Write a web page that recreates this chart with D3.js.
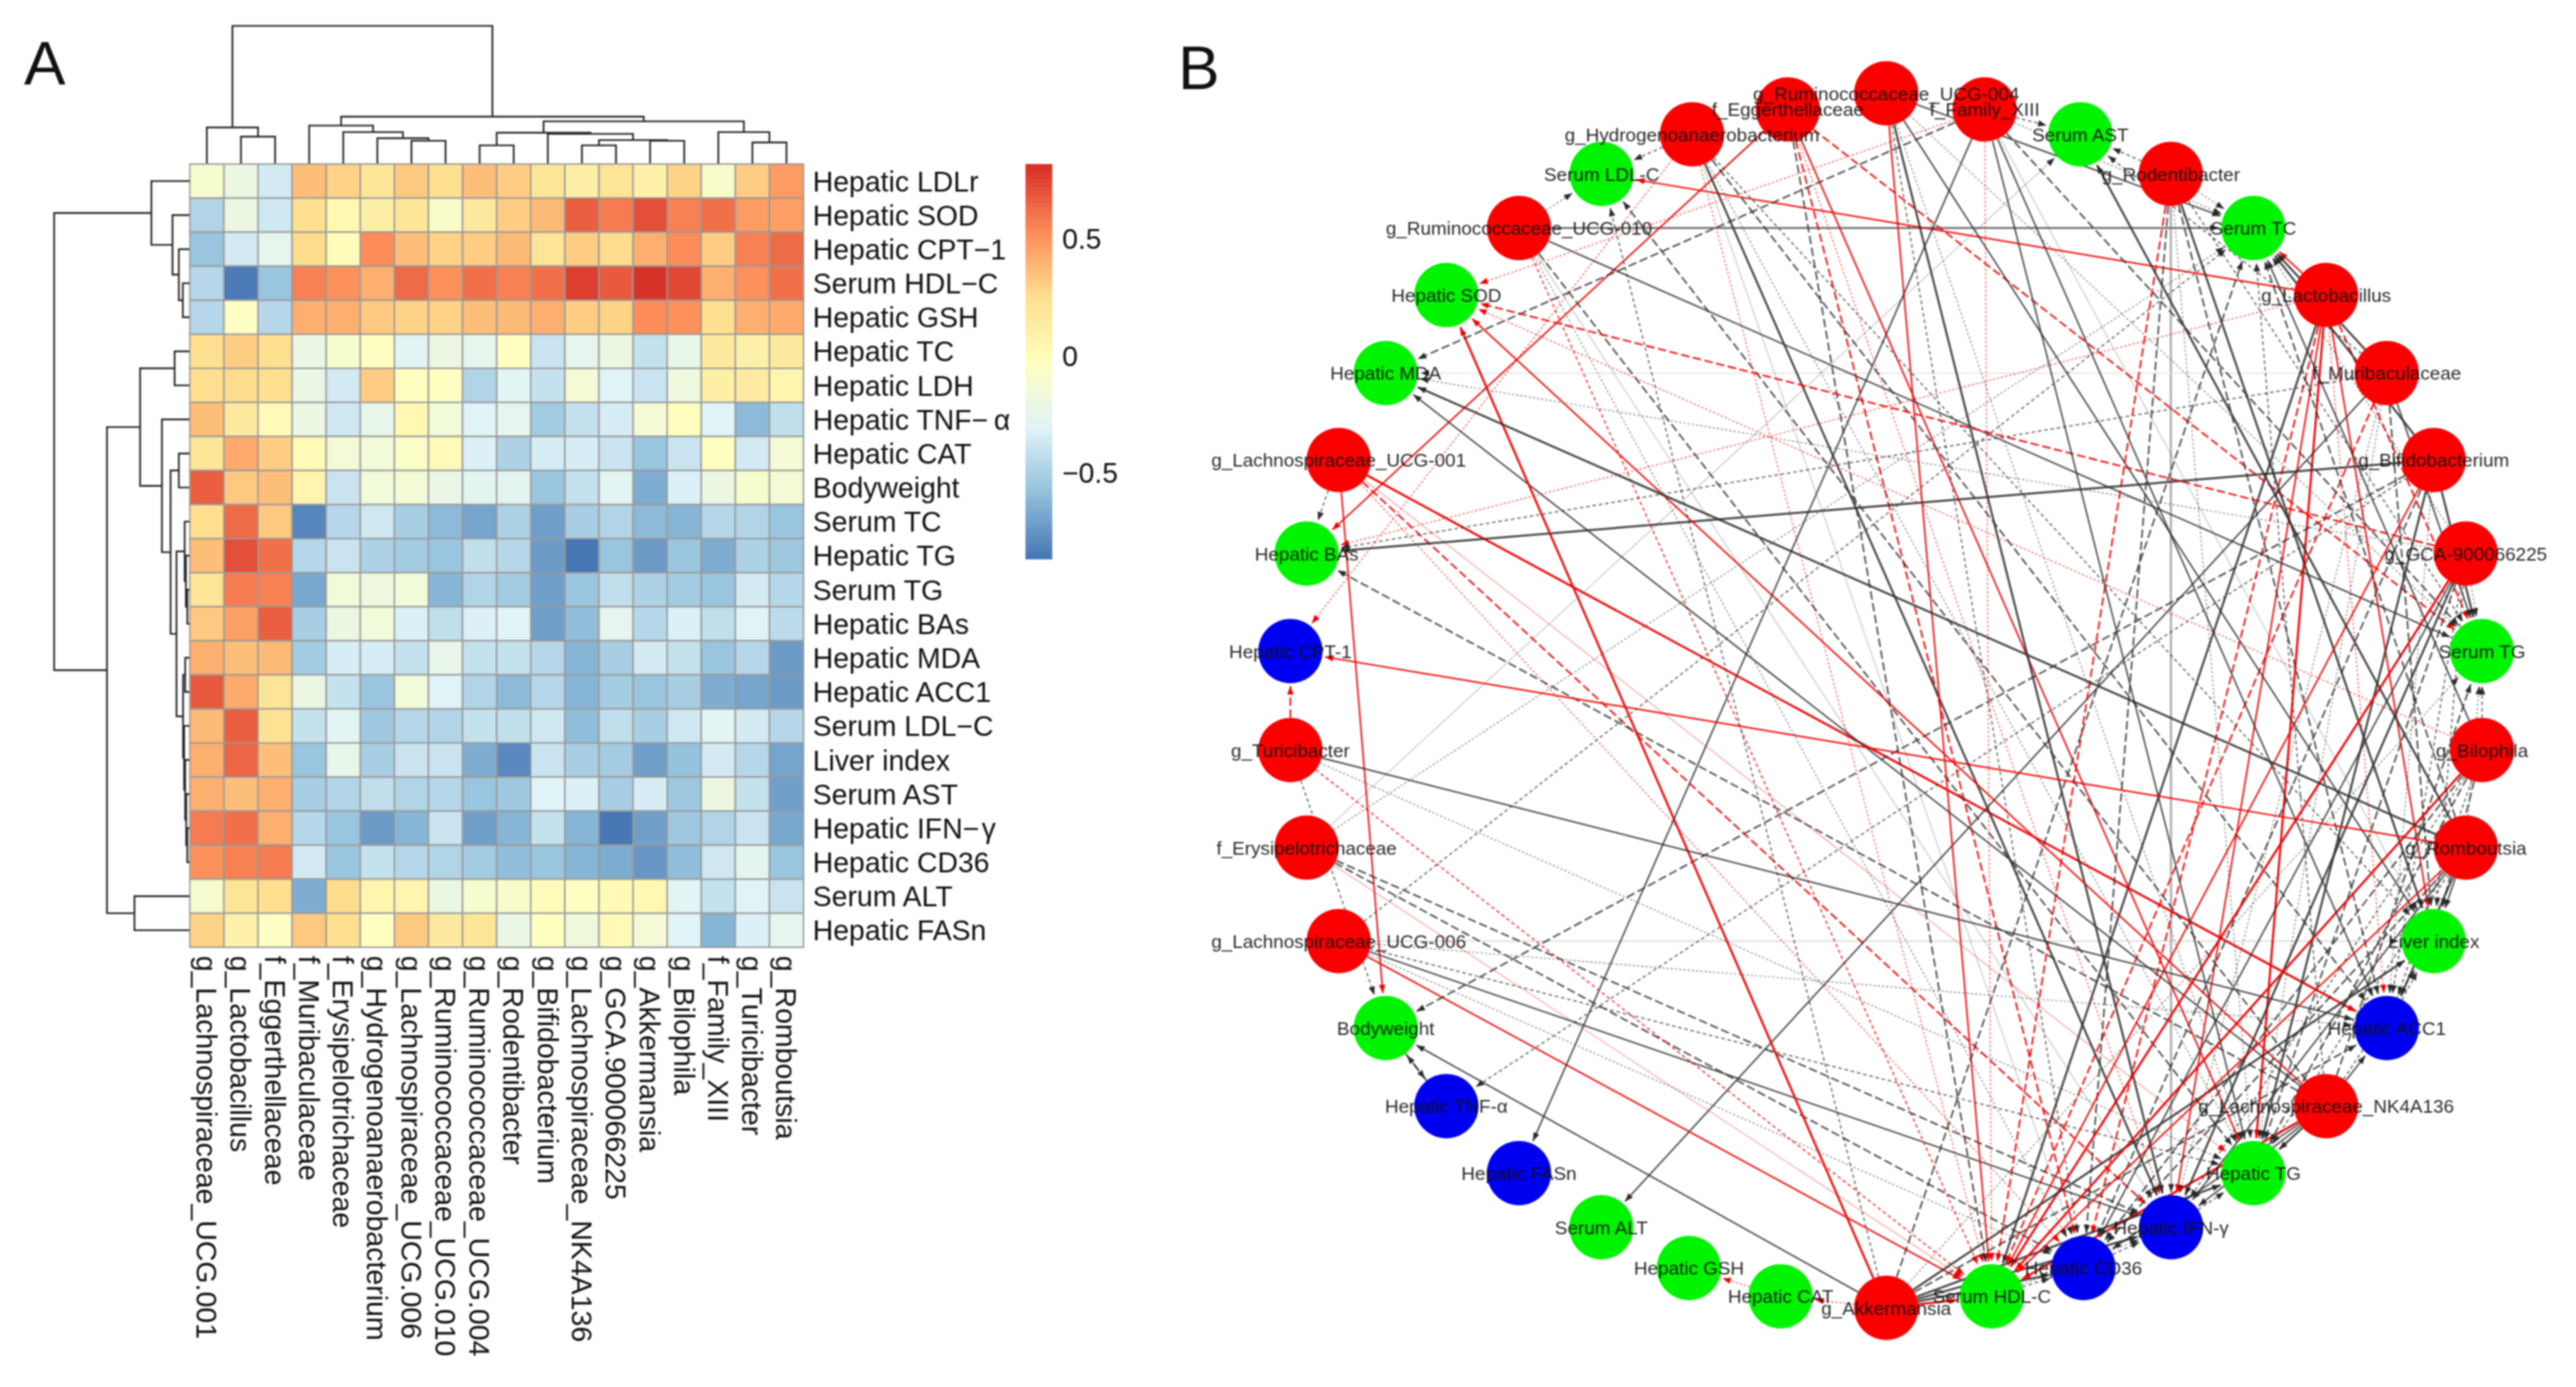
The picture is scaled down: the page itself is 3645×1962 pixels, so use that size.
<!DOCTYPE html>
<html><head><meta charset="utf-8">
<script src="https://cdn.jsdelivr.net/npm/d3@7/dist/d3.min.js"></script>
<style>
html,body{margin:0;padding:0;background:#fff;}
svg{display:block;filter:blur(0.8px);}
text{font-family:"Liberation Sans",Arial,sans-serif;fill:#111;}
</style></head><body>
<svg id="c" width="3645" height="1962"></svg>
<script>
// ---------- heatmap data ----------
const rowNames=["Hepatic LDLr","Hepatic SOD","Hepatic CPT\u22121","Serum HDL\u2212C","Hepatic GSH","Hepatic TC","Hepatic LDH","Hepatic TNF\u2212\u2009\u03b1","Hepatic CAT","Bodyweight","Serum TC","Hepatic TG","Serum TG","Hepatic BAs","Hepatic MDA","Hepatic ACC1","Serum LDL\u2212C","Liver index","Serum AST","Hepatic IFN\u2212\u200a\u03b3","Hepatic CD36","Serum ALT","Hepatic FASn"];
const colNames=["g_Lachnospiraceae_UCG.001","g_Lactobacillus","f_Eggerthellaceae","f_Muribaculaceae","f_Erysipelotrichaceae","g_Hydrogenoanaerobacterium","g_Lachnospiraceae_UCG.006","g_Ruminococcaceae_UCG.010","g_Ruminococcaceae_UCG.004","g_Rodentibacter","g_Bifidobacterium","g_Lachnospiraceae_NK4A136","g_GCA.900066225","g_Akkermansia","g_Bilophila","f_Family_XIII","g_Turicibacter","g_Romboutsia"];
const heat=[
[-.1,-.2,-.35,.38,.3,.2,.35,.25,.38,.33,.2,.12,.23,.1,.3,-.08,.33,.5],
[-.47,-.2,-.37,.25,.05,.13,.2,-.08,.18,.33,.4,.68,.6,.72,.57,.62,.5,.48],
[-.55,-.35,-.25,.28,0,.55,.38,.3,.33,.4,.22,.33,.28,.42,.55,.32,.57,.65],
[-.45,-.83,-.55,.57,.53,.42,.64,.52,.62,.57,.62,.77,.7,.82,.74,.43,.52,.62],
[-.45,-.05,-.45,.43,.43,.35,.3,.3,.38,.4,.42,.33,.3,.54,.52,.25,.42,.45],
[.25,.32,.25,-.22,-.1,-.03,-.28,-.2,-.25,-.02,-.38,-.25,-.2,-.4,-.23,.18,.1,.18],
[.25,.28,.25,-.22,-.35,.32,-.02,-.02,-.47,-.28,-.4,-.13,-.3,-.38,-.18,.13,.15,.08],
[.38,.18,.02,-.2,-.37,-.23,.05,-.15,-.3,-.24,-.52,-.4,-.33,-.12,-.01,-.3,-.6,-.42],
[.2,.45,.32,.02,-.12,-.15,-.06,.02,-.32,-.48,-.33,-.33,-.38,-.55,-.38,-.02,-.35,-.13],
[.67,.35,.38,.07,-.38,-.15,-.12,-.22,-.27,-.27,-.55,-.4,-.27,-.65,-.32,-.2,-.1,-.12],
[.25,.64,.35,-.8,-.45,-.37,-.5,-.6,-.68,-.48,-.7,-.5,-.47,-.6,-.62,-.45,-.47,-.55],
[.38,.73,.62,-.45,-.38,-.48,-.52,-.55,-.42,-.45,-.72,-.88,-.55,-.72,-.55,-.65,-.48,-.53],
[.22,.6,.57,-.66,-.15,-.18,-.15,-.62,-.46,-.52,-.7,-.55,-.42,-.48,-.52,-.55,-.35,-.45],
[.35,.47,.67,-.5,-.2,-.15,-.32,-.42,-.32,-.3,-.7,-.58,-.25,-.45,-.32,-.42,-.3,-.43],
[.42,.38,.4,-.52,-.33,-.33,-.4,-.23,-.4,-.4,-.45,-.62,-.5,-.35,-.4,-.55,-.45,-.72],
[.7,.45,.22,-.2,-.4,-.55,-.15,-.3,-.47,-.6,-.45,-.62,-.52,-.55,-.5,-.65,-.68,-.72],
[.4,.68,.24,-.4,-.28,-.53,-.45,-.47,-.4,-.42,-.37,-.58,-.42,-.5,-.37,-.28,-.35,-.45],
[.42,.66,.38,-.55,-.23,-.5,-.38,-.38,-.65,-.78,-.38,-.5,-.52,-.7,-.57,-.35,-.45,-.68],
[.43,.38,.42,-.5,-.47,-.42,-.46,-.45,-.55,-.53,-.3,-.32,-.5,-.33,-.53,-.2,-.4,-.7],
[.6,.62,.42,-.45,-.55,-.72,-.62,-.38,-.7,-.62,-.4,-.62,-.85,-.7,-.53,-.47,-.38,-.67],
[.53,.57,.6,-.35,-.55,-.4,-.45,-.47,-.52,-.58,-.55,-.62,-.65,-.73,-.58,-.37,-.27,-.55],
[-.1,.22,.25,-.65,.27,.08,.08,-.2,-.1,-.07,0,-.03,.02,.06,-.28,-.4,-.3,-.38],
[.3,.1,-.05,.35,.25,-.02,.35,.18,.2,-.22,-.03,-.17,.02,-.12,-.3,-.62,-.32,-.24]
];
// dendrograms: [mergeHeight, left, right], leaves are row/column indices
const colTree=[195.4,[51,0,[38,1,2]],[66.3,
  [53.6,3,[44.4,4,[35.7,5,[32,6,7]]]],
  [59.7,[43.4,[25.5,8,9],[41.8,10,[33,[25.5,11,12],[32,13,14]]]],[44.4,15,[29.6,16,17]]]]];
const rowTree=[192,[54,0,[24,1,[15,2,[9.3,3,4]]]],[117,
  [70,[21,5,6],[39,7,[26.7,[15,8,9],[18.3,[6.7,10,[5,11,[3,12,13]]],[9,[6,14,15],[7.5,16,[6,17,[4.5,18,[3,19,20]]]]]]]]],
  [78,21,22]]];
const legendTicks=[0.5,0,-0.5];
const legendMin=-0.858, legendMax=0.82;
const rampStops=["#4575B4","#91BFDB","#E0F3F8","#FFFFBF","#FEE090","#FC8D59","#D73027"];

// ---------- network data ----------
const nodeNames=["g_Ruminococcaceae_UCG-004","f_Family_XIII","Serum AST","g_Rodentibacter","Serum TC","g_Lactobacillus","f_Muribaculaceae","g_Bifidobacterium","g_GCA-900066225","Serum TG","g_Bilophila","g_Romboutsia","Liver index","Hepatic ACC1","g_Lachnospiraceae_NK4A136","Hepatic TG","Hepatic IFN-\u03b3","Hepatic CD36","Serum HDL-C","g_Akkermansia","Hepatic CAT","Hepatic GSH","Serum ALT","Hepatic FASn","Hepatic TNF-\u03b1","Bodyweight","g_Lachnospiraceae_UCG-006","f_Erysipelotrichaceae","g_Turicibacter","Hepatic CPT-1","Hepatic BAs","g_Lachnospiraceae_UCG-001","Hepatic MDA","Hepatic SOD","g_Ruminococcaceae_UCG-010","Serum LDL-C","g_Hydrogenoanaerobacterium","f_Eggerthellaceae"];
const nodeGroup=["r","r","g","r","g","r","r","r","r","g","r","r","g","b","r","g","b","b","g","r","g","g","g","b","b","g","r","r","r","b","g","r","g","g","r","g","r","r"];
// [source node, target node, signed correlation]
const edges=[
[31,25,.67],[31,13,.7],[31,16,.6],[31,17,.46],[31,30,-.52],[31,15,.38],
[5,18,-.83],[5,4,.64],[5,15,.73],[5,9,.6],[5,35,.68],[5,12,.66],[5,16,.62],[5,17,.57],[5,30,.47],[5,13,.45],
[37,30,.67],[37,15,.62],[37,9,.57],[37,17,.6],[37,18,-.55],[37,16,.42],
[6,4,-.8],[6,18,.57],[6,22,-.65],[6,9,-.66],[6,15,-.45],[6,30,-.5],[6,12,-.55],[6,2,-.5],[6,16,-.45],
[27,18,.4],[27,16,-.55],[27,17,-.55],[27,2,-.38],[27,4,-.45],
[36,35,-.53],[36,16,-.72],[36,29,.46],[36,12,-.5],[36,13,-.55],[36,15,-.48],[36,18,.42],[36,17,-.4],
[26,18,.64],[26,4,-.5],[26,15,-.52],[26,16,-.62],[26,17,-.45],[26,13,-.43],[26,12,-.38],
[34,18,.52],[34,9,-.62],[34,15,-.55],[34,35,-.47],[34,16,-.38],[34,17,-.47],
[0,18,.62],[0,4,-.68],[0,15,-.42],[0,9,-.46],[0,12,-.65],[0,16,-.7],[0,17,-.52],
[3,18,.57],[3,4,-.48],[3,15,-.45],[3,9,-.52],[3,12,-.78],[3,2,-.53],[3,17,-.58],[3,13,-.6],
[7,18,.62],[7,25,-.55],[7,24,-.52],[7,4,-.7],[7,15,-.72],[7,9,-.7],[7,30,-.7],[7,13,-.45],[7,17,-.55],
[14,33,.68],[14,18,.77],[14,4,-.5],[14,15,-.88],[14,9,-.55],[14,30,-.58],[14,32,-.62],[14,13,-.62],[14,35,-.58],[14,12,-.5],[14,16,-.62],[14,17,-.62],
[8,33,.6],[8,18,.7],[8,16,-.85],[8,17,-.65],[8,15,-.55],[8,4,-.47],[8,13,-.52],[8,12,-.52],[8,32,-.45],[8,9,-.45],
[19,33,.72],[19,18,.82],[19,20,.45],[19,4,-.6],[19,15,-.72],[19,9,-.48],[19,13,-.55],[19,12,-.7],[19,35,-.5],[19,16,-.7],[19,17,-.73],[19,25,-.65],
[10,33,.48],[10,18,.74],[10,4,-.62],[10,15,-.55],[10,9,-.52],[10,13,-.5],[10,12,-.57],[10,16,-.53],[10,17,-.58],
[1,33,.48],[1,18,.43],[1,4,-.45],[1,15,-.65],[1,9,-.55],[1,13,-.65],[1,23,-.62],[1,32,-.55],[1,12,-.4],[1,2,-.5],
[28,29,.57],[28,18,.52],[28,15,-.48],[28,13,-.68],[28,25,-.5],
[11,29,.65],[11,18,.62],[11,4,-.55],[11,15,-.53],[11,32,-.72],[11,13,-.72],[11,12,-.68],[11,2,-.7],[11,16,-.67],[11,17,-.55],[11,9,-.45],
[25,24,-.6],[24,25,-.6],[20,21,.45],[17,16,-.5],[16,15,-.5],[13,12,-.5],[18,17,-.5],[18,16,-.48]
];
// pale wide edges: [source, target, grey colour value]
const paleEdges=[[3,16,170],[34,4,125],[6,32,225]];

// ---------- drawing ----------
const svg=d3.select("#c");
const defs=svg.append("defs");
[["mr","#f00000"],["mk","#2a2a2a"]].forEach(([id,col])=>{
  defs.append("marker").attr("id",id).attr("markerUnits","userSpaceOnUse").attr("markerWidth",14).attr("markerHeight",10)
    .attr("refX",12).attr("refY",4.5).attr("orient","auto")
    .append("path").attr("d","M0,0L12,4.5L0,9Z").attr("fill",col);
});

// Panel letters
svg.append("text").attr("x",34).attr("y",120).attr("font-size",88).text("A");
svg.append("text").attr("x",1667).attr("y",126).attr("font-size",88).text("B");

// Heatmap
const x=d3.scaleBand().domain(d3.range(colNames.length)).range([268.6,1137]);
const y=d3.scaleBand().domain(d3.range(rowNames.length)).range([232,1340]);
const ramp=d3.scaleLinear().domain(d3.range(rampStops.length).map(i=>legendMin+i*(legendMax-legendMin)/(rampStops.length-1))).range(rampStops);
const bins=d3.range(100).map(i=>ramp(legendMin+(i+.5)*(legendMax-legendMin)/100));
const color=d3.scaleQuantize().domain([legendMin,legendMax]).range(bins);
const gh=svg.append("g");
heat.forEach((row,r)=>row.forEach((v,c)=>{
  gh.append("rect").attr("x",x(c)).attr("y",y(r)).attr("width",x.bandwidth()).attr("height",y.bandwidth())
    .attr("fill",color(v)).attr("stroke","#999").attr("stroke-width",2);
}));
svg.append("g").selectAll("text").data(rowNames).join("text")
  .attr("x",1150).attr("y",(d,i)=>y(i)+y.bandwidth()/2).attr("dy",".36em").attr("font-size",40.2).text(d=>d);
svg.append("g").selectAll("text").data(colNames).join("text")
  .attr("transform",(d,i)=>`translate(${x(i)+x.bandwidth()/2},1352) rotate(90)`)
  .attr("dy",".36em").attr("font-size",40.3).text(d=>d);

// Dendrograms
function dendro(tree,pos,hs,orient){
  const p=d3.path();
  function walk(n){
    if(typeof n==="number") return {c:pos(n)+pos.bandwidth()/2,h:hs(0)};
    const a=walk(n[1]),b=walk(n[2]),h=hs(n[0]);
    if(orient==="top"){p.moveTo(a.c,a.h);p.lineTo(a.c,h);p.lineTo(b.c,h);p.lineTo(b.c,b.h);}
    else{p.moveTo(a.h,a.c);p.lineTo(h,a.c);p.lineTo(h,b.c);p.lineTo(b.h,b.c);}
    return {c:(a.c+b.c)/2,h};
  }
  walk(tree);
  svg.append("path").attr("d",p.toString()).attr("fill","none").attr("stroke","#222").attr("stroke-width",2.4);
}
dendro(colTree,x,d3.scaleLinear().domain([0,195.4]).range([231,36.6]),"top");
dendro(rowTree,y,d3.scaleLinear().domain([0,192]).range([268,76.6]),"left");

// Legend
const ly=d3.scaleLinear().domain([legendMin,legendMax]).range([787,232]);
svg.append("g").selectAll("rect").data(bins).join("rect")
  .attr("x",1451).attr("width",38)
  .attr("y",(d,i)=>ly(legendMin+(i+1)*(legendMax-legendMin)/100)).attr("height",(legendMax-legendMin)/100*555+.5)
  .attr("fill",d=>d);
svg.append("g").selectAll("text").data(legendTicks).join("text")
  .attr("x",1503).attr("y",d=>ly(d)).attr("dy",".36em").attr("font-size",40)
  .text(d=>d3.format("")(d).replace("-","\u2212"));

// Network: circular layout, slightly stretched at the very top and bottom of the ring
const cx=2669,cy=991,Rx=846,Ry=847,nodeR=45.5;
const ang=d3.scaleLinear().domain([0,nodeNames.length]).range([0,2*Math.PI]);
const nodePos=nodeNames.map((d,i)=>{
  const a=ang(i),co=Math.cos(a),si=Math.sin(a);
  const bottom=co<0?Math.pow(-co,36):0, top=co>0?Math.pow(co,200):0;
  return {x:cx+Rx*si*(1+.12*bottom),y:cy-(Ry+12*top+12*bottom)*co};
});
const eColor=r=>r>0?"#f00000":"#2a2a2a";
const eWidth=d3.scaleThreshold().domain([.42,.5,.55,.62,.7]).range([1.2,1.4,1.8,2.4,2.2,3]);
const eOpacity=d3.scaleThreshold().domain([.42,.5,.55,.62,.7]).range([.32,.6,.72,.8,.82,.85]);
const eDash=d3.scaleThreshold().domain([.42,.5,.55,.62,.7]).range(["none","3 3","5 4","12 5","none","none"]);
function ends(s,t,gap){
  const a=nodePos[s],b=nodePos[t],dx=b.x-a.x,dy=b.y-a.y,L=Math.hypot(dx,dy);
  return {x1:a.x+dx/L*nodeR,y1:a.y+dy/L*nodeR,x2:b.x-dx/L*(nodeR+gap),y2:b.y-dy/L*(nodeR+gap)};
}
const ge=svg.append("g");
paleEdges.forEach(([s,t,g])=>{
  const e=ends(s,t,4);
  ge.append("line").attr("x1",e.x1).attr("y1",e.y1).attr("x2",e.x2).attr("y2",e.y2)
    .attr("stroke",`rgb(${g},${g},${g})`).attr("stroke-width",g>200?1.6:3).attr("marker-end","url(#mk)");
});
edges.forEach(([s,t,r])=>{
  const e=ends(s,t,4),m=Math.abs(r);
  ge.append("line").attr("x1",e.x1).attr("y1",e.y1).attr("x2",e.x2).attr("y2",e.y2)
    .attr("stroke",eColor(r)).attr("stroke-width",eWidth(m)).attr("stroke-opacity",r>0?Math.min(1,eOpacity(m)+.12):eOpacity(m))
    .attr("stroke-dasharray",eDash(m)).attr("marker-end",r>0?"url(#mr)":"url(#mk)");
});
const gCol={r:"#fb0000",g:"#00f300",b:"#0000f0"};
svg.append("g").selectAll("circle").data(nodePos).join("circle")
  .attr("cx",d=>d.x).attr("cy",d=>d.y).attr("r",nodeR).attr("fill",(d,i)=>gCol[nodeGroup[i]]);
svg.append("g").selectAll("text").data(nodeNames).join("text")
  .attr("x",(d,i)=>nodePos[i].x).attr("y",(d,i)=>nodePos[i].y).attr("dy",".36em").attr("text-anchor","middle")
  .attr("font-size",26.7).attr("fill-opacity",.9).text(d=>d);
</script>
</body></html>
